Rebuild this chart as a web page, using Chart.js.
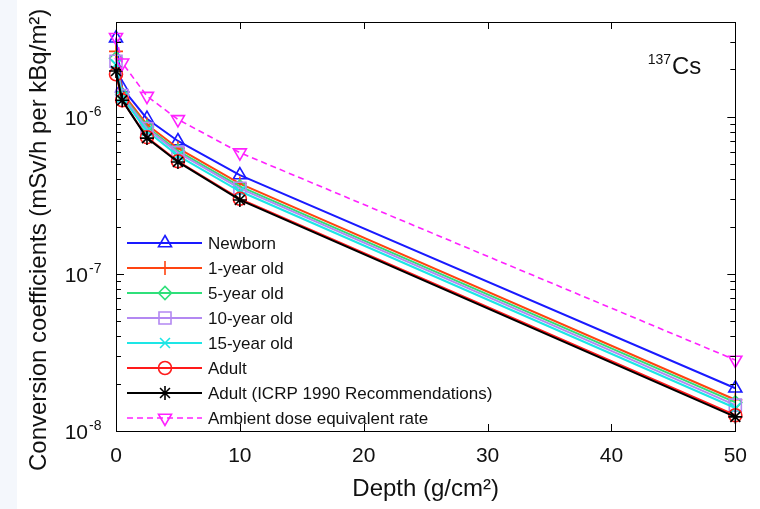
<!DOCTYPE html>
<html><head><meta charset="utf-8">
<script src="https://cdn.jsdelivr.net/npm/chart.js@4.4.0/dist/chart.umd.min.js"></script>
<style>
html,body{margin:0;padding:0;background:#fff;}
#strip{position:absolute;left:0;top:0;width:17px;height:509px;background:#f4f7fc;}
#wrap{position:absolute;left:0;top:0;width:760px;height:509px;}
</style></head><body>
<div id="strip"></div>
<div id="wrap"><canvas id="c" width="760" height="509"></canvas></div>
<script>
// ---- data ----
const depths = [0, 0.5, 2.5, 5, 10, 50];
const newborn     = [3.15e-6, 1.52e-6, 9.7e-7, 7.0e-7, 4.25e-7, 1.87e-8];
const oneYear     = [2.60e-6, 1.42e-6, 8.9e-7, 6.3e-7, 3.75e-7, 1.58e-8];
const fiveYear    = [2.35e-6, 1.38e-6, 8.6e-7, 6.05e-7, 3.6e-7, 1.52e-8];
const tenYear     = [2.25e-6, 1.36e-6, 8.4e-7, 5.9e-7, 3.5e-7, 1.46e-8];
const fifteenYear = [2.15e-6, 1.32e-6, 8.1e-7, 5.65e-7, 3.35e-7, 1.40e-8];
const adult       = [1.86e-6, 1.27e-6, 7.4e-7, 5.2e-7, 3.0e-7, 1.26e-8];
const adultICRP   = [1.95e-6, 1.27e-6, 7.3e-7, 5.15e-7, 2.95e-7, 1.23e-8];
const ambient     = [3.2e-6, 2.2e-6, 1.35e-6, 9.6e-7, 5.9e-7, 2.83e-8];
const seriesNames = ['Newborn','1-year old','5-year old','10-year old','15-year old','Adult','Adult (ICRP 1990 Recommendations)','Ambient dose equivalent rate'];
const seriesValues = [newborn, oneYear, fiveYear, tenYear, fifteenYear, adult, adultICRP, ambient];
const xTickValues = [0, 10, 20, 30, 40, 50];
const xTickLabels = ['0', '10', '20', '30', '40', '50'];
const yTickValues = [1e-6, 1e-7, 1e-8];
const yTickBase = ['10', '10', '10'];
const yTickExponents = ['-6', '-7', '-8'];
const xTitle = 'Depth (g/cm²)';
const yTitle = 'Conversion coefficients (mSv/h per kBq/m²)';
const nuclideMass = '137';
const nuclideSymbol = 'Cs';

// ---- styles ----
const FONT = '"Liberation Sans", Arial, Helvetica, sans-serif';
const TXT = '#111';
const styles = [
  {color:'#1a1aff', point:'triangle', r:7.5, rot:0},
  {color:'#ff4411', point:'cross', r:7, rot:0},
  {color:'#2fe07a', point:'rectRot', r:6.5, rot:0},
  {color:'#b388f2', point:'rect', r:8.5, rot:0},
  {color:'#1de6e6', point:'crossRot', r:7, rot:0},
  {color:'#ff1a1a', point:'circle', r:6.5, rot:0},
  {color:'#000000', point:'star', r:7, rot:0},
  {color:'#ff22ff', point:'triangle', r:7.5, rot:180, dash:[6,4], width:1.6}
];

const datasets = seriesValues.map((vals, i) => {
  const s = styles[i];
  return {
    label: seriesNames[i],
    data: depths.map((d, j) => ({x: d, y: vals[j]})),
    borderColor: s.color,
    backgroundColor: 'rgba(0,0,0,0)',
    borderWidth: s.width || 2,
    borderDash: s.dash || [],
    pointStyle: s.point,
    pointRadius: s.r,
    pointRotation: s.rot,
    pointBorderColor: s.color,
    pointBackgroundColor: 'rgba(0,0,0,0)',
    pointBorderWidth: 1.6,
    tension: 0,
    clip: false,
    order: seriesValues.length - i
  };
});

function drawMarker(ctx, s, x, y) {
  ctx.save();
  ctx.strokeStyle = s.color;
  ctx.fillStyle = 'rgba(0,0,0,0)';
  ctx.lineWidth = 1.6;
  ctx.setLineDash([]);
  Chart.helpers.drawPoint(ctx, {pointStyle: s.point, rotation: s.rot, radius: s.r, borderWidth: 1.6}, x, y);
  ctx.restore();
}

const decor = {
  id: 'decor',
  afterDraw(chart) {
    const ctx = chart.ctx;
    const a = chart.chartArea;
    const xs = chart.scales.x, ys = chart.scales.y;
    ctx.save();
    // frame
    ctx.strokeStyle = '#000';
    ctx.lineWidth = 1;
    ctx.setLineDash([]);
    ctx.strokeRect(Math.round(a.left) + 0.5, Math.round(a.top) + 0.5, Math.round(a.right - a.left), Math.round(a.bottom - a.top));
    // x ticks (inward, top and bottom)
    ctx.beginPath();
    xTickValues.forEach(v => {
      const px = Math.round(xs.getPixelForValue(v)) + 0.5;
      ctx.moveTo(px, a.bottom); ctx.lineTo(px, a.bottom - 7);
      ctx.moveTo(px, a.top); ctx.lineTo(px, a.top + 7);
    });
    // y ticks (decades and minor), left and right
    for (let e = -8; e <= -6; e++) {
      for (let m = 1; m <= 9; m++) {
        const v = m * Math.pow(10, e);
        if (v < ys.min * 0.999 || v > ys.max * 1.001) continue;
        const py = Math.round(ys.getPixelForValue(v)) + 0.5;
        const len = m === 1 ? 8 : 5;
        ctx.moveTo(a.left, py); ctx.lineTo(a.left + len, py);
        ctx.moveTo(a.right, py); ctx.lineTo(a.right - len, py);
      }
    }
    ctx.stroke();
    // y tick labels with superscript exponents
    ctx.fillStyle = TXT;
    yTickValues.forEach((v, i) => {
      const py = ys.getPixelForValue(v);
      ctx.font = '21px ' + FONT;
      ctx.textAlign = 'right';
      ctx.textBaseline = 'alphabetic';
      ctx.fillText(yTickBase[i], 88, py + 8);
      ctx.font = '14px ' + FONT;
      ctx.textAlign = 'left';
      ctx.fillText(yTickExponents[i], 89, py - 1);
    });
    // nuclide annotation
    ctx.font = '14px ' + FONT;
    ctx.textAlign = 'right';
    ctx.fillText(nuclideMass, 671, 64);
    ctx.font = '24px ' + FONT;
    ctx.textAlign = 'left';
    ctx.fillText(nuclideSymbol, 672, 74);
    // legend
    const lx0 = a.left + 11, lx1 = a.left + 86, mx = a.left + 49, tx = a.left + 92;
    seriesNames.forEach((name, i) => {
      const s = styles[i];
      const y = a.top + 221 + i * 25;
      ctx.strokeStyle = s.color;
      ctx.lineWidth = s.width || 2;
      ctx.setLineDash(s.dash || []);
      ctx.beginPath();
      ctx.moveTo(lx0, y); ctx.lineTo(lx1, y);
      ctx.stroke();
      drawMarker(ctx, s, mx, y);
      ctx.fillStyle = TXT;
      ctx.font = '17px ' + FONT;
      ctx.textAlign = 'left';
      ctx.textBaseline = 'middle';
      ctx.fillText(name, tx, y + 1);
    });
    ctx.restore();
  }
};

new Chart(document.getElementById('c'), {
  type: 'line',
  data: {datasets},
  options: {
    responsive: false,
    animation: false,
    layout: {padding: {left: 0, top: 22, right: 19, bottom: 0}},
    plugins: {legend: {display: false}, tooltip: {enabled: false}},
    scales: {
      x: {
        type: 'linear', min: 0, max: 50,
        afterBuildTicks: s => { s.ticks = xTickValues.map(v => ({value: v})); },
        ticks: {
          callback: v => { const i = xTickValues.indexOf(v); return i >= 0 ? xTickLabels[i] : ''; },
          font: {family: FONT, size: 21}, color: TXT, padding: 13, maxRotation: 0, autoSkip: false
        },
        grid: {display: false, drawTicks: false},
        border: {display: false},
        title: {display: true, text: xTitle, font: {family: FONT, size: 24}, color: TXT, padding: {top: 0, bottom: 5}},
        afterFit: s => { s.height = 78; }
      },
      y: {
        type: 'logarithmic', min: 1e-8, max: 4e-6,
        ticks: {display: false},
        grid: {display: false, drawTicks: false},
        border: {display: false},
        title: {display: true, text: yTitle + '    ', font: {family: FONT, size: 24}, color: TXT, padding: {top: 25, bottom: 0}},
        afterFit: s => { s.width = 116; }
      }
    }
  },
  plugins: [decor]
});
</script>
</body></html>
